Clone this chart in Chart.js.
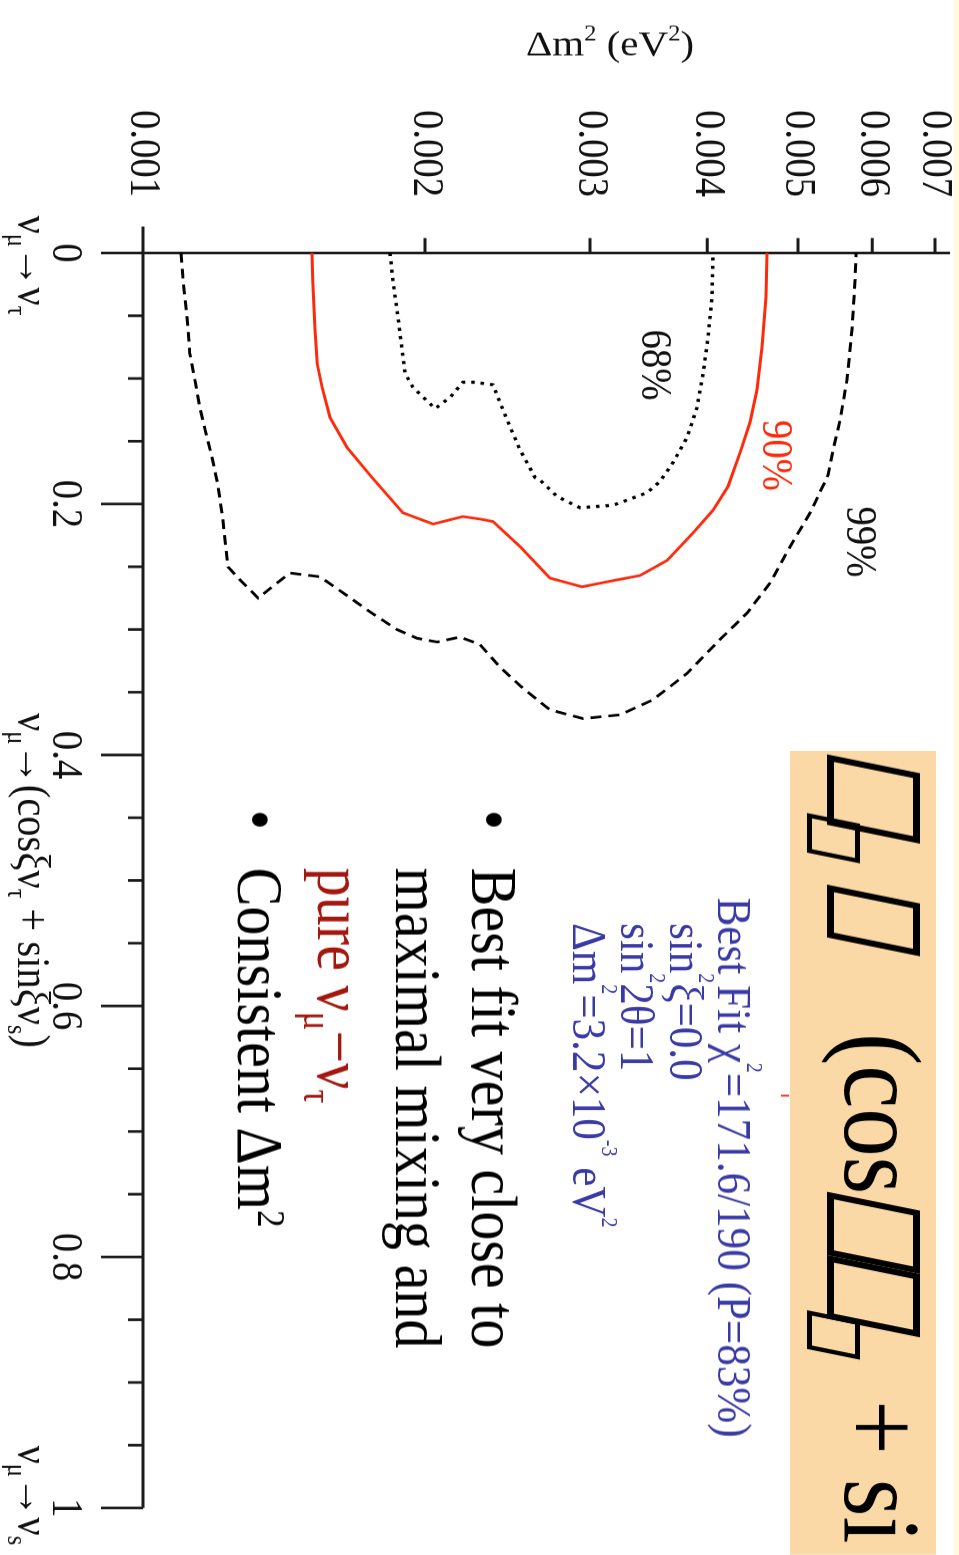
<!DOCTYPE html>
<html>
<head>
<meta charset="utf-8">
<script src="https://cdn.jsdelivr.net/npm/chart.js@4.4.1/dist/chart.umd.min.js"></script>
<style>
html, body { margin: 0; padding: 0; background: #fff; }
body { width: 959px; height: 1555px; overflow: hidden; position: relative; font-family: 'Liberation Serif', 'Times New Roman', serif; }
#strip { position: absolute; left: 954px; top: 0; width: 5px; height: 1555px; background: #fffbdc; }
/* the slide is laid out unrotated, then turned a quarter clockwise */
#slide { position: absolute; left: 0; top: 0; width: 1767px; height: 959px; overflow: hidden;
         transform-origin: 0 0; transform: translate(959px, 0) rotate(90deg) scaleX(0.88); }
#chart { position: absolute; left: 0; top: 0; }
.t { position: absolute; white-space: nowrap; line-height: 1; }
sup, sub { font-size: 60%; line-height: 0; position: relative; vertical-align: baseline; }
sup { top: -0.75em; }
sub { top: 0.35em; }
.peach { position: absolute; left: 853px; top: 23px; width: 914px; height: 146px; background: #fad9a7; }
.ttl { font-size: 110px; top: 22px; color: #000; }
/* glyphs the slide font could not show came out as hollow boxes */
.tofu { display: inline-block; overflow: hidden; box-sizing: border-box; height: 93px; border: 7px solid #000;
        color: transparent; font-size: 20px; line-height: 1; transform: skewX(-13deg); vertical-align: -18px; }
.tofu.s { height: 53px; border-width: 5px; vertical-align: -38px; }
.blue { font-size: 49px; color: #3a3aa6; }
.blue sup { font-size: 46%; top: -1.3em; }
.big { font-size: 66px; color: #000; }
.big sup { top: -0.5em; }
.dred { color: #a3170f; }
</style>
</head>
<body>
<div id="strip"></div>
<div id="slide">
  <canvas id="chart" width="1767" height="959"></canvas>

  <div class="peach"></div>
  <div class="t ttl" style="left:868px;"><span class="tofu" style="width:80px;">ν</span><span class="tofu s" style="width:45px; margin-left:-18px;">μ</span></div>
  <div class="t ttl" style="left:1016px;"><span class="tofu" style="width:60px;">→</span></div>
  <div class="t ttl" style="left:1174px;">(cos<span class="tofu" style="width:72px; margin-left:8px;">ξ</span><span class="tofu" style="width:72px;">ν</span><span class="tofu s" style="width:44px; margin-left:-14px;">τ</span></div>
  <div class="t ttl" style="left:1591px;">+ si</div>
  <div style="position:absolute; left:1244px; top:170px; width:2px; height:8px; background:#ff2a0a;"></div>

  <div class="t blue" style="left:1020px; top:200px;">Best Fit χ<sup>2</sup>=171.6/190 (P=83%)</div>
  <div class="t blue" style="left:1049px; top:248px;">sin<sup>2</sup>ξ=0.0</div>
  <div class="t blue" style="left:1049px; top:297px;">sin<sup>2</sup>2θ=1</div>
  <div class="t blue" style="left:1049px; top:345px;">Δm<sup>2</sup>=3.2×10<sup>-3</sup> eV<sup>2</sup></div>

  <div class="t big" style="left:920px; top:431.7px;">•</div>
  <div class="t big" style="left:986px; top:431.7px;">Best fit very close to</div>
  <div class="t big" style="left:986px; top:507.7px;">maximal mixing and</div>
  <div class="t big dred" style="left:986px; top:585.7px;">pure ν<sub>μ</sub>−ν<sub>τ</sub></div>
  <div class="t big" style="left:920px; top:665.7px;">•</div>
  <div class="t big" style="left:986px; top:665.7px;">Consistent Δm<sup>2</sup></div>
</div>

<script>
// contours: sin^2(xi) vs delta m^2 (eV^2)
const sinXi99 = [0, 0.020, 0.051, 0.080, 0.101, 0.123, 0.141, 0.163, 0.177, 0.185,
  0.213, 0.250, 0.258, 0.275, 0.263, 0.255, 0.258, 0.273, 0.286, 0.300,
  0.307, 0.310, 0.306, 0.312, 0.330, 0.347, 0.364, 0.371, 0.368, 0.356,
  0.335, 0.308, 0.287, 0.263, 0.234, 0.207, 0.177, 0.157, 0.133, 0.101,
  0.061, 0.022, 0];
const dm99 = [1.098e-3, 1.103e-3, 1.114e-3, 1.122e-3, 1.136e-3, 1.150e-3, 1.165e-3, 1.185e-3, 1.196e-3, 1.202e-3,
  1.217e-3, 1.232e-3, 1.260e-3, 1.327e-3, 1.390e-3, 1.435e-3, 1.545e-3, 1.651e-3, 1.747e-3, 1.866e-3,
  1.961e-3, 2.060e-3, 2.179e-3, 2.289e-3, 2.404e-3, 2.545e-3, 2.718e-3, 2.949e-3, 3.229e-3, 3.502e-3,
  3.807e-3, 4.128e-3, 4.411e-3, 4.668e-3, 4.904e-3, 5.151e-3, 5.384e-3, 5.451e-3, 5.545e-3, 5.640e-3,
  5.710e-3, 5.753e-3, 5.767e-3];

const sinXi90 = [0, 0.022, 0.061, 0.088, 0.107, 0.131, 0.155, 0.179, 0.207, 0.216,
  0.210, 0.212, 0.214, 0.234, 0.259, 0.266, 0.262, 0.257, 0.245, 0.223,
  0.205, 0.186, 0.159, 0.135, 0.109, 0.075, 0.035, 0];
const dm90 = [1.515e-3, 1.518e-3, 1.526e-3, 1.534e-3, 1.553e-3, 1.583e-3, 1.651e-3, 1.756e-3, 1.894e-3, 2.040e-3,
  2.195e-3, 2.289e-3, 2.363e-3, 2.526e-3, 2.718e-3, 2.942e-3, 3.128e-3, 3.391e-3, 3.625e-3, 3.864e-3,
  4.058e-3, 4.210e-3, 4.337e-3, 4.444e-3, 4.522e-3, 4.578e-3, 4.623e-3, 4.634e-3];

const sinXi68 = [0, 0.022, 0.051, 0.077, 0.096, 0.107, 0.124, 0.115, 0.103, 0.103,
  0.105, 0.133, 0.157, 0.179, 0.181, 0.194, 0.203, 0.201, 0.191, 0.182,
  0.167, 0.147, 0.123, 0.096, 0.067, 0.035, 0];
const dm68 = [1.835e-3, 1.848e-3, 1.871e-3, 1.890e-3, 1.904e-3, 1.941e-3, 2.050e-3, 2.127e-3, 2.195e-3, 2.261e-3,
  2.363e-3, 2.446e-3, 2.526e-3, 2.621e-3, 2.653e-3, 2.766e-3, 2.927e-3, 3.174e-3, 3.451e-3, 3.563e-3,
  3.678e-3, 3.807e-3, 3.902e-3, 3.960e-3, 4.009e-3, 4.048e-3, 4.058e-3];

// axis ticks
const xMajorTicks = [0, 0.2, 0.4, 0.6, 0.8, 1];
const xMajorLabels = ['0', '0.2', '0.4', '0.6', '0.8', '1'];
const xMinorTicks = [0.05, 0.1, 0.15, 0.25, 0.3, 0.35, 0.45, 0.5, 0.55, 0.65, 0.7, 0.75, 0.85, 0.9, 0.95];
const yTicks = [0.001, 0.002, 0.003, 0.004, 0.005, 0.006, 0.007];
const yTickLabels = ['0.001', '0.002', '0.003', '0.004', '0.005', '0.006', '0.007'];

// contour labels
const clLabels = ['68%', '90%', '99%'];
const clX = [0.061, 0.133, 0.202];
const clY = [3.41e-3, 4.59e-3, 5.64e-3];
const clColors = ['#111', '#ff2a0a', '#111'];

// channel names under the x axis: [text, 0 normal / 1 subscript / 2 superscript]
const endAt = [0.01, 0.5, 0.99];
const endParts = [
  [['ν', 0], ['μ', 1], ['→ν', 0], ['τ', 1]],
  [['ν', 0], ['μ', 1], ['→(cosξν', 0], ['τ', 1], [' + sinξν', 0], ['s', 1], [')', 0]],
  [['ν', 0], ['μ', 1], ['→ν', 0], ['s', 1]]
];
const yTitleParts = [['Δm', 0], ['2', 2], [' (eV', 0], ['2', 2], [')', 0]];

const SERIF = '"Liberation Serif", "Times New Roman", serif';

function drawRich(ctx, parts, u, base, size, align) {
  const widths = parts.map(([t, k]) => {
    ctx.font = (k ? size * 0.6 : size) + 'px ' + SERIF;
    return ctx.measureText(t).width;
  });
  const total = widths.reduce((a, b) => a + b, 0);
  let pos = align === 'center' ? u - total / 2 : u;
  ctx.textAlign = 'left';
  ctx.textBaseline = 'alphabetic';
  parts.forEach(([t, k], i) => {
    ctx.font = (k ? size * 0.6 : size) + 'px ' + SERIF;
    const dy = k === 1 ? size * 0.22 : (k === 2 ? -size * 0.4 : 0);
    ctx.fillText(t, pos, base + dy);
    pos += widths[i];
  });
}

const axesPlugin = {
  id: 'rotAxes',
  beforeDatasetsDraw(chart) {
    const { ctx } = chart;
    const x = chart.scales.x, y = chart.scales.y;
    const x0 = x.getPixelForValue(0), x1 = x.getPixelForValue(1);
    const yb = y.getPixelForValue(0.001), yt = y.getPixelForValue(0.0073);

    ctx.save();
    ctx.strokeStyle = '#1a1a1a';
    ctx.lineWidth = 3;
    ctx.beginPath();
    ctx.moveTo(x0 - 30, yb); ctx.lineTo(x1, yb);
    ctx.moveTo(x0, yt + 2); ctx.lineTo(x0, yb + 42);
    xMajorTicks.forEach(v => {
      const p = x.getPixelForValue(v);
      ctx.moveTo(p, yb); ctx.lineTo(p, yb + 42);
    });
    xMinorTicks.forEach(v => {
      const p = x.getPixelForValue(v);
      ctx.moveTo(p, yb); ctx.lineTo(p, yb + 15);
    });
    yTicks.slice(1).forEach(v => {
      const p = y.getPixelForValue(v);
      ctx.moveTo(x0 - 17, p); ctx.lineTo(x0, p);
    });
    ctx.stroke();

    ctx.fillStyle = '#111';
    ctx.font = '44px ' + SERIF;
    ctx.textAlign = 'right';
    ctx.textBaseline = 'middle';
    yTicks.forEach((v, i) => ctx.fillText(yTickLabels[i], x0 - 63.5, y.getPixelForValue(v)));

    ctx.textAlign = 'center';
    ctx.textBaseline = 'alphabetic';
    xMajorTicks.forEach((v, i) => ctx.fillText(xMajorLabels[i], x.getPixelForValue(v), yb + 90));

    endParts.forEach((parts, i) => drawRich(ctx, parts, x.getPixelForValue(endAt[i]), yb + 125, 46, 'center'));

    ctx.save();
    ctx.translate(62.5, 349);
    ctx.rotate(-Math.PI / 2);
    drawRich(ctx, yTitleParts, 0, 0, 41, 'center');
    ctx.restore();

    ctx.font = '44px ' + SERIF;
    ctx.textAlign = 'left';
    ctx.textBaseline = 'alphabetic';
    clLabels.forEach((t, i) => {
      ctx.fillStyle = clColors[i];
      ctx.fillText(t, x.getPixelForValue(clX[i]), y.getPixelForValue(clY[i]));
    });
    ctx.restore();
  }
};

function pts(xs, ys) {
  return xs.map((v, i) => ({ x: v, y: ys[i] }));
}

new Chart(document.getElementById('chart'), {
  type: 'scatter',
  data: {
    datasets: [
      {
        label: '99%',
        data: pts(sinXi99, dm99),
        showLine: true,
        borderColor: '#000',
        borderWidth: 3,
        borderDash: [11, 7],
        pointRadius: 0,
        clip: false
      },
      {
        label: '90%',
        data: pts(sinXi90, dm90),
        showLine: true,
        borderColor: '#ff2a0a',
        borderWidth: 3,
        pointRadius: 0,
        clip: false
      },
      {
        label: '68%',
        data: pts(sinXi68, dm68),
        showLine: true,
        borderColor: '#000',
        borderWidth: 3.5,
        borderDash: [3.5, 6],
        pointRadius: 0,
        clip: false
      }
    ]
  },
  options: {
    responsive: false,
    animation: false,
    events: [],
    layout: { padding: { left: 287.5, right: 53.4, top: 7, bottom: 143 } },
    plugins: {
      legend: { display: false },
      tooltip: { enabled: false }
    },
    scales: {
      x: { type: 'linear', min: 0, max: 1, display: false },
      y: { type: 'logarithmic', min: 0.001, max: 0.0073, display: false }
    }
  },
  plugins: [axesPlugin]
});
</script>
</body>
</html>
